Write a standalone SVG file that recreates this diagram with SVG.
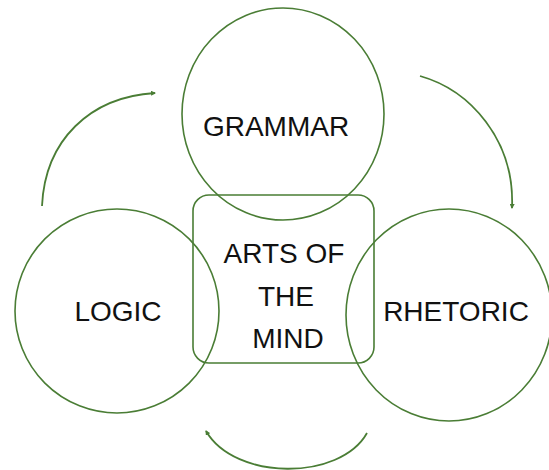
<svg xmlns="http://www.w3.org/2000/svg" width="549" height="470" viewBox="0 0 549 470">
<style>
.shape{fill:none;stroke:#4a7d35;stroke-width:1.6}
.conn{fill:none;stroke:#4a7d35;stroke-width:1.8}
.lbl{font-family:"Liberation Sans",Arial,sans-serif;font-size:28px;fill:#111;text-anchor:middle}
</style>
<defs>
<marker id="ah" viewBox="0 0 10 10" refX="8" refY="5" markerWidth="5" markerHeight="5" orient="auto" markerUnits="userSpaceOnUse">
<path d="M0 0 L10 5 L0 10 z" fill="#4a7d35"/>
</marker>
</defs>
<rect width="549" height="470" fill="#fff"/>
<g id="grammar"><ellipse class="shape" cx="283" cy="114" rx="101" ry="106"/><text class="lbl" x="276" y="136">GRAMMAR</text></g>
<g id="logic"><circle class="shape" cx="117" cy="311" r="102"/><text class="lbl" x="118" y="321">LOGIC</text></g>
<g id="rhetoric"><ellipse class="shape" cx="449" cy="315" rx="103" ry="106"/><text class="lbl" x="456" y="321">RHETORIC</text></g>
<g id="arts"><rect class="shape" x="193" y="195" width="181" height="168" rx="16"/>
<text class="lbl" x="284" y="263">ARTS OF</text><text class="lbl" x="286" y="306">THE</text><text class="lbl" x="288" y="348">MIND</text></g>
<g id="connectors">
<path class="conn" d="M42 206 C45 140 90 97 155 93" marker-end="url(#ah)"/>
<path class="conn" d="M420 76 C470 90 515 140 512 208" marker-end="url(#ah)"/>
<path class="conn" d="M367 433 C340 481 235 481 206 431" marker-end="url(#ah)"/>
</g>
</svg>
